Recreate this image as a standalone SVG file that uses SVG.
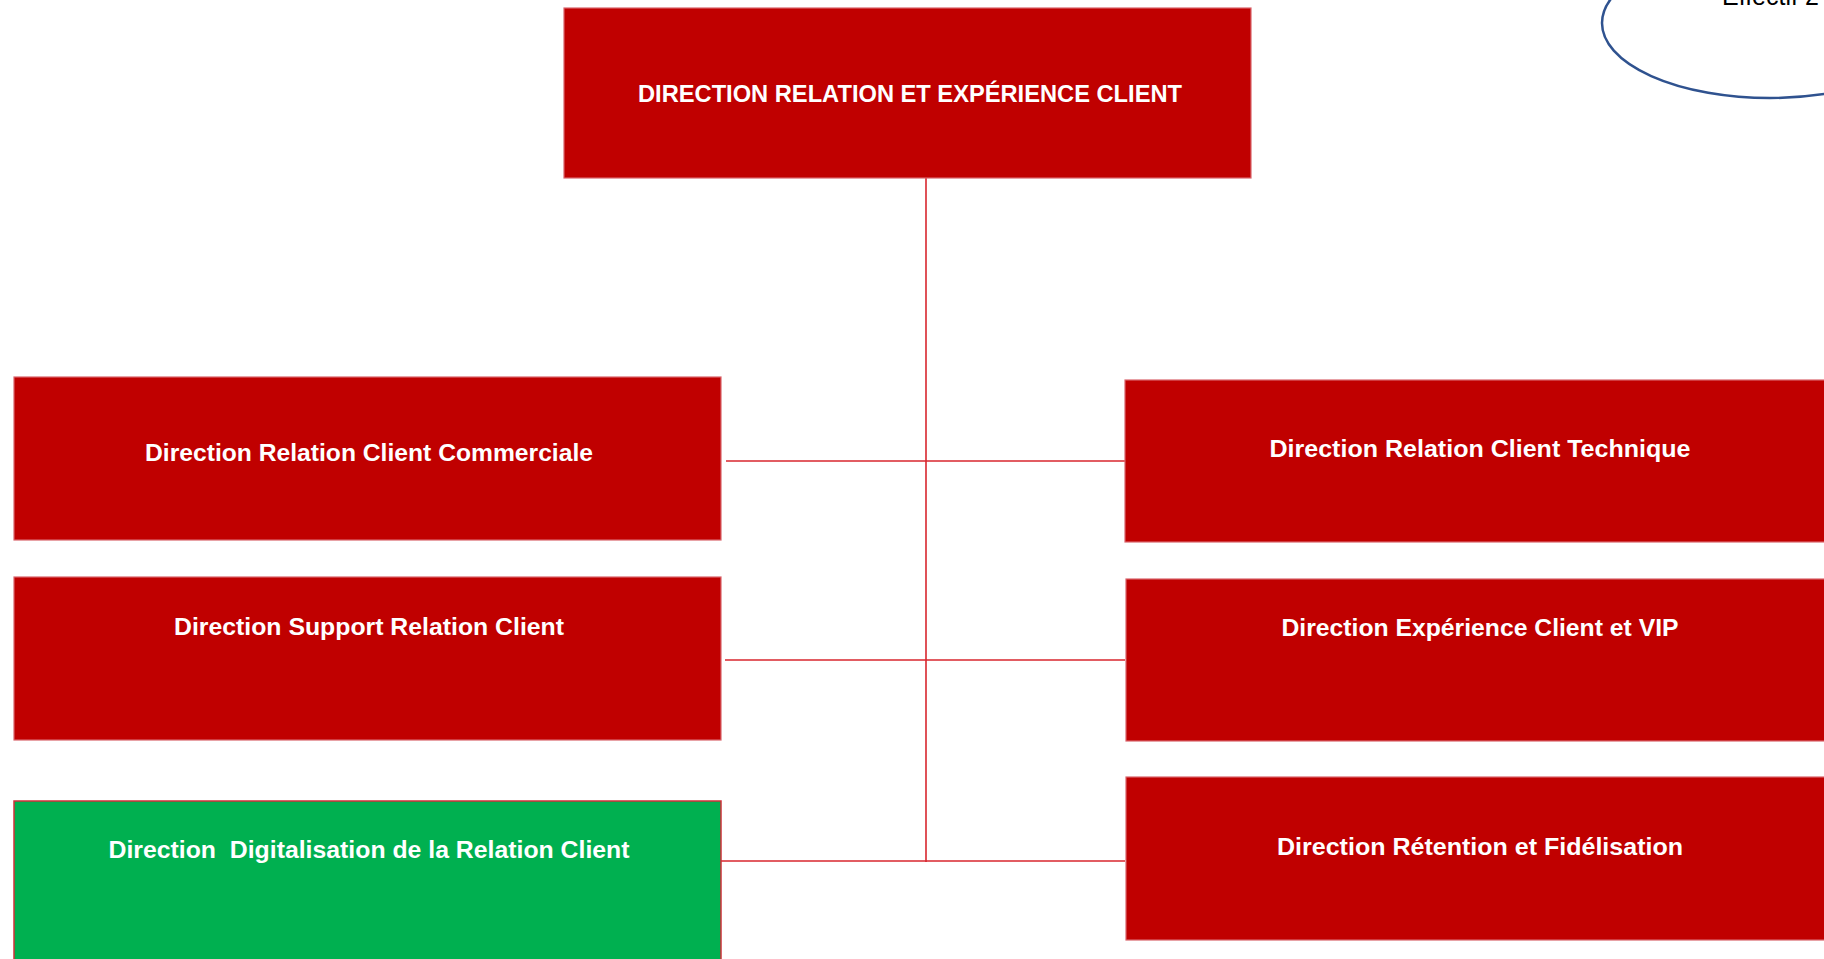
<svg xmlns="http://www.w3.org/2000/svg" width="1824" height="959" viewBox="0 0 1824 959">
<style>
.red{fill:#C00000;stroke:#D9646C;stroke-width:1.2}
.green{fill:#00B050;stroke:#D0303A;stroke-width:1.5}
.lbl{font-family:"Liberation Sans",Arial,sans-serif;font-weight:bold;font-size:24px;fill:#FFFFFF;text-anchor:middle;white-space:pre}
.conn{stroke:#D8262E;stroke-width:1.6;fill:none}
</style>
<rect width="1824" height="959" fill="#FFFFFF"/>
<g id="ellipse-note">
<ellipse cx="1770" cy="23" rx="168" ry="75" fill="none" stroke="#2F528F" stroke-width="2.5"/>
<text x="1722" y="5" font-family="'Liberation Sans',Arial,sans-serif" font-size="25" fill="#000000">Effectif 2</text>
</g>
<g id="connectors">
<line class="conn" x1="926" y1="178" x2="926" y2="862" stroke-width="2.2"/>
<line class="conn" x1="726" y1="461" x2="1125" y2="461"/>
<line class="conn" x1="725" y1="660" x2="1125" y2="660"/>
<line class="conn" x1="721" y1="861" x2="1125" y2="861"/>
</g>
<g id="node-top">
<rect class="red" x="564" y="8" width="687" height="170"/>
<text class="lbl" x="910" y="102" textLength="544" lengthAdjust="spacingAndGlyphs">DIRECTION RELATION ET EXPÉRIENCE CLIENT</text>
</g>
<g id="node-commerciale">
<rect class="red" x="14" y="377" width="707" height="163"/>
<text class="lbl" x="369" y="461" textLength="448" lengthAdjust="spacingAndGlyphs">Direction Relation Client Commerciale</text>
</g>
<g id="node-support">
<rect class="red" x="14" y="577" width="707" height="163"/>
<text class="lbl" x="369" y="635" textLength="390" lengthAdjust="spacingAndGlyphs">Direction Support Relation Client</text>
</g>
<g id="node-digitalisation">
<rect class="green" x="14" y="801" width="707" height="170"/>
<text class="lbl" x="369" y="858" textLength="521" lengthAdjust="spacingAndGlyphs">Direction  Digitalisation de la Relation Client</text>
</g>
<g id="node-technique">
<rect class="red" x="1125" y="380" width="710" height="162"/>
<text class="lbl" x="1480" y="457" textLength="421" lengthAdjust="spacingAndGlyphs">Direction Relation Client Technique</text>
</g>
<g id="node-experience-vip">
<rect class="red" x="1126" y="579" width="710" height="162"/>
<text class="lbl" x="1480" y="636" textLength="397" lengthAdjust="spacingAndGlyphs">Direction Expérience Client et VIP</text>
</g>
<g id="node-retention">
<rect class="red" x="1126" y="777" width="710" height="163"/>
<text class="lbl" x="1480" y="855" textLength="406" lengthAdjust="spacingAndGlyphs">Direction Rétention et Fidélisation</text>
</g>
</svg>
